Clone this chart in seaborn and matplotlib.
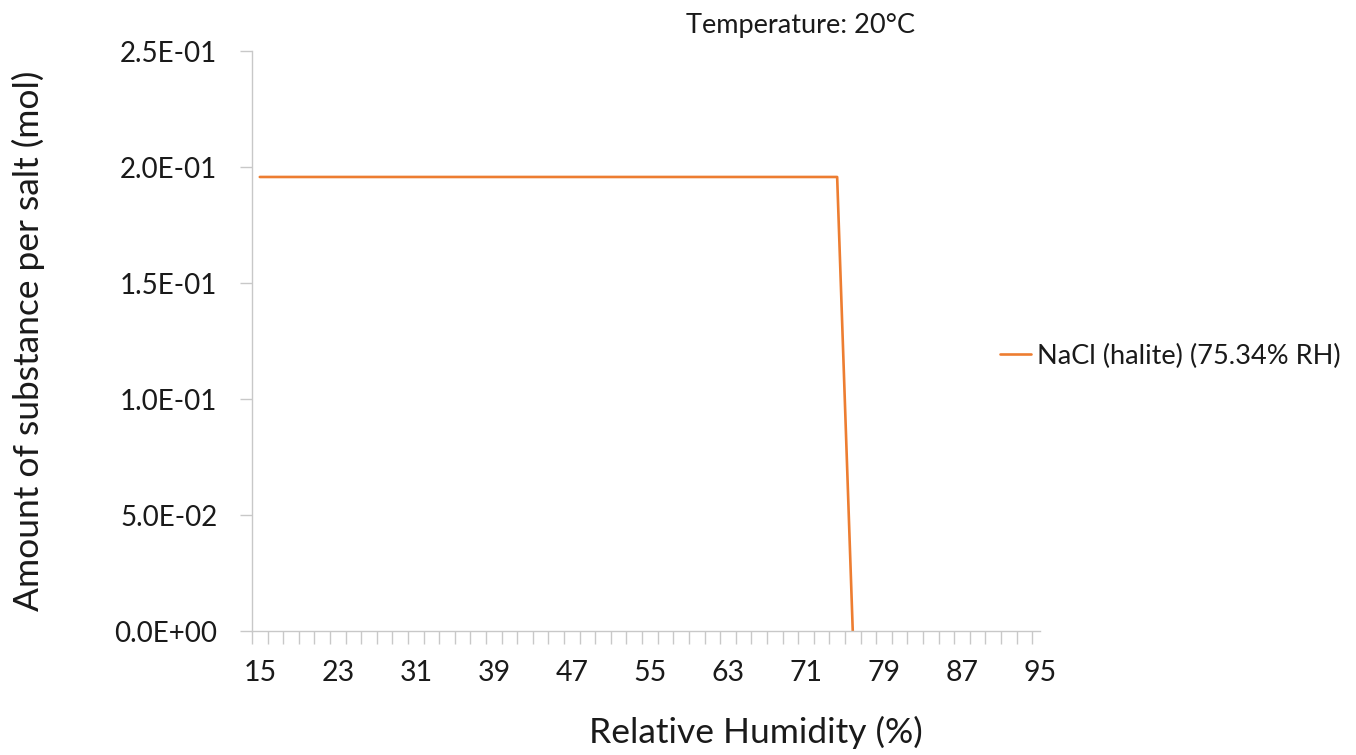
import numpy as np
import pandas as pd
import matplotlib
matplotlib.use("Agg")
import matplotlib.pyplot as plt
import seaborn as sns
from matplotlib.ticker import FuncFormatter, FixedLocator

# Data
rh = [15.0, 16.6, 18.2, 19.8, 21.4, 23.0, 24.6, 26.2, 27.8, 29.4,
      31.0, 32.6, 34.2, 35.8, 37.4, 39.0, 40.6, 42.2, 43.8, 45.4,
      47.0, 48.6, 50.2, 51.8, 53.4, 55.0, 56.6, 58.2, 59.8, 61.4,
      63.0, 64.6, 66.2, 67.8, 69.4, 71.0, 72.6, 74.2, 75.8]
nacl_mol = [0.1957] * 38 + [0.0]
x_tick_labels = [15, 23, 31, 39, 47, 55, 63, 71, 79, 87, 95]
y_ticks = [0.0, 0.05, 0.10, 0.15, 0.20, 0.25]

series_name = "NaCl (halite) (75.34% RH)"
df = pd.DataFrame({"RH": rh, "mol": nacl_mol, "salt": series_name})

sns.set_theme(style="white")
plt.rcParams["font.family"] = ["Lato", "DejaVu Sans"]
text_color = "#1a1a1a"
axis_color = "#c8c8c8"

fig = plt.figure(figsize=(13.56, 7.55), dpi=100)
ax = fig.add_axes([252 / 1356, 1 - 631 / 755, 788 / 1356, 580 / 755])

sns.lineplot(data=df, x="RH", y="mol", hue="salt", palette=["#ED7D31"],
             linewidth=1.9, ax=ax)

ax.set_xlim(14.2, 95.0)
ax.set_ylim(0, 0.25)

# y axis
ax.yaxis.set_major_locator(FixedLocator(y_ticks))
ax.yaxis.set_major_formatter(FuncFormatter(lambda v, p: f"{v:.1E}"))
ax.tick_params(axis="y", which="major", left=True, length=9, width=1,
               color=axis_color, pad=16, labelsize=20, labelcolor=text_color)

# x axis: labels every 8 %RH, tick marks between categories
ax.xaxis.set_major_locator(FixedLocator(x_tick_labels))
ax.set_xticklabels([str(v) for v in x_tick_labels])
ax.xaxis.set_minor_locator(FixedLocator(list(np.arange(14.2, 95.01, 1.6)) + [95.0]))
ax.tick_params(axis="x", which="major", bottom=True, length=0, pad=21,
               labelsize=20.5, labelcolor=text_color)
ax.tick_params(axis="x", which="minor", bottom=True, length=9, width=1,
               color=axis_color)

for side in ["top", "right"]:
    ax.spines[side].set_visible(False)
for side in ["left", "bottom"]:
    ax.spines[side].set_color(axis_color)
    ax.spines[side].set_linewidth(1)

ax.set_ylabel("Amount of substance per salt (mol)", fontsize=25.5,
              color=text_color, labelpad=50)
ax.set_xlabel("Relative Humidity (%)", fontsize=25.5, color=text_color)
ax.xaxis.set_label_coords(0.64, -0.147)

fig.text(800 / 1356, 1 - 26 / 755, "Temperature: 20°C", ha="center",
         va="center", fontsize=19.5, color=text_color)

ax.legend(loc="center left", bbox_to_anchor=(1000 / 1356, 1 - 356 / 755),
          bbox_transform=fig.transFigure, frameon=False, fontsize=19.5,
          handlelength=1.15, handletextpad=0.22, borderaxespad=0,
          borderpad=0, labelcolor=text_color)

fig.savefig("out.png", dpi=100)
